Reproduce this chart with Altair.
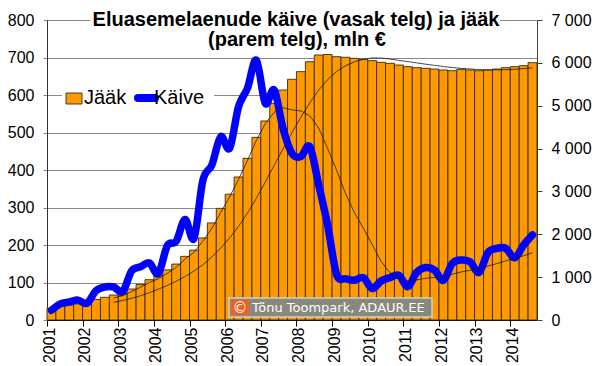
import altair as alt
import pandas as pd

# ---- data (quarterly, 2001Q1 .. 2014Q3) ----
years = list(range(2001, 2015))
quarters = [f"{y}Q{q}" for y in years for q in range(1, 5)][:55]

# Jääk (outstanding), mln €, right axis
jaak = [280, 320, 350, 375, 390, 480, 530, 583, 622, 723,
        830, 940, 1050, 1170, 1305, 1485, 1630, 1915, 2265, 2605,
        2935, 3337, 3773, 4262, 4644, 5055, 5367, 5617, 5795, 6027,
        6183, 6195, 6144, 6130, 6105, 6083, 6051, 6012, 5989, 5950,
        5911, 5888, 5872, 5856, 5833, 5817, 5848, 5833, 5817, 5833,
        5856, 5888, 5911, 5934, 6005]

# Käive (turnover), mln €, left axis
kaive = [26, 43, 48, 53, 45, 78, 88, 88, 76, 131,
         142, 152, 124, 198, 210, 268, 218, 373, 413, 489,
         458, 569, 618, 693, 578, 613, 510, 444, 436, 462,
         360, 253, 122, 110, 106, 113, 84, 104, 113, 119,
         89, 127, 140, 133, 106, 151, 160, 155, 127, 180,
         191, 191, 166, 200, 227]

left_ticks = list(range(0, 801, 100))
right_ticks = list(range(0, 7001, 1000))
year_ticks = years

title_lines = ["Eluasemelaenude käive (vasak telg) ja jääk", "(parem telg), mln €"]
legend_labels = ["Jääk", "Käive"]
watermark = "Tõnu Toompark, ADAUR.EE"

df = pd.DataFrame({"kvartal": quarters, "jaak": jaak, "kaive": kaive})

FONT = "Liberation Sans"
ORANGE = "#FF9900"
BLUE = "#0000FF"
BAR_EDGE = "#3a2c10"

base = alt.Chart(df).transform_calculate(
    t0="toNumber(substring(datum.kvartal,0,4)) + (toNumber(substring(datum.kvartal,5,6))-1)/4"
).transform_calculate(
    t1="datum.t0 + 0.25", tm="datum.t0 + 0.125"
)

xscale = alt.Scale(domain=[2001, 2014.75], nice=False, zero=False)
xaxis = alt.Axis(values=year_ticks, format="d", labelAngle=-90, tickSize=6,
                 labelPadding=1, grid=False, domainColor="black", tickColor="black",
                 title=None, labelOffset=2)

yR = alt.Scale(domain=[0, 7000], nice=False)
yR_axis = alt.Axis(orient="right", values=right_ticks, grid=False, tickSize=5,
                   labelPadding=9, domainColor="#404040", tickColor="#404040",
                   title=None,
                   labelExpr="datum.value >= 1000 ? floor(datum.value/1000) + ' 000' : '0'")
yL = alt.Scale(domain=[0, 800], nice=False)
yL_axis = alt.Axis(orient="left", values=left_ticks, grid=True, gridColor="#8a8a8a",
                   tickSize=4, tickColor="#8a8a8a", labelPadding=9,
                   domainColor="#303030", title=None)

bars = base.mark_rect(fill=ORANGE, stroke=BAR_EDGE, strokeWidth=0.9).encode(
    x=alt.X("t0:Q", scale=xscale, axis=xaxis),
    x2="t1:Q",
    y=alt.Y("jaak:Q", scale=yR, axis=yR_axis),
    y2=alt.datum(0),
)

jaak_ma = base.transform_window(
    ma="mean(jaak)", cnt="count()", frame=[-7, 0], sort=[alt.SortField("t0")]
).transform_filter("datum.cnt >= 8").mark_line(color="#1a1a1a", strokeWidth=0.8).encode(
    x=alt.X("tm:Q", scale=xscale, axis=xaxis),
    y=alt.Y("ma:Q", scale=yR, axis=yR_axis),
)

kaive_line = base.mark_line(color=BLUE, strokeWidth=7.5, interpolate="cardinal",
                            strokeCap="round", strokeJoin="round").encode(
    x=alt.X("tm:Q", scale=xscale, axis=xaxis),
    y=alt.Y("kaive:Q", scale=yL, axis=yL_axis),
)

kaive_ma = base.transform_window(
    ma="mean(kaive)", cnt="count()", frame=[-7, 0], sort=[alt.SortField("t0")]
).transform_filter("datum.cnt >= 8").mark_line(color="#1a1a1a", strokeWidth=0.8).encode(
    x=alt.X("tm:Q", scale=xscale, axis=xaxis),
    y=alt.Y("ma:Q", scale=yL, axis=yL_axis),
)

right_group = alt.layer(bars, jaak_ma)
left_group = alt.layer(kaive_line, kaive_ma)

one = pd.DataFrame({"a": [0]})
deco = alt.Chart(one)

# title box + text
title_box = deco.mark_rect(fill="white").encode(
    x=alt.value(43), x2=alt.value(453), y=alt.value(-6), y2=alt.value(9))
title1 = deco.mark_text(text=title_lines[0], font=FONT, fontSize=20, fontWeight="bold",
                        align="center", baseline="alphabetic", color="black").encode(
    x=alt.value(249), y=alt.value(6))
title2 = deco.mark_text(text=title_lines[1], font=FONT, fontSize=20, fontWeight="bold",
                        align="center", baseline="alphabetic", color="black").encode(
    x=alt.value(250), y=alt.value(26))

# legend
leg_box = deco.mark_rect(fill="white").encode(
    x=alt.value(15), x2=alt.value(167), y=alt.value(64), y2=alt.value(92))
leg_key1 = deco.mark_rect(fill=ORANGE, stroke=BAR_EDGE, strokeWidth=0.9).encode(
    x=alt.value(19), x2=alt.value(35), y=alt.value(73), y2=alt.value(84))
leg_txt1 = deco.mark_text(text=legend_labels[0], font=FONT, fontSize=20, align="left",
                          baseline="alphabetic", color="black").encode(
    x=alt.value(37), y=alt.value(84))
leg_key2 = deco.mark_rule(color=BLUE, strokeWidth=8, strokeCap="round").encode(
    x=alt.value(91), x2=alt.value(108), y=alt.value(78))
leg_txt2 = deco.mark_text(text=legend_labels[1], font=FONT, fontSize=20, align="left",
                          baseline="alphabetic", color="black").encode(
    x=alt.value(107), y=alt.value(84))

# watermark
wm_box = deco.mark_rect(fill="#88887c", stroke="#cfcfc6", strokeWidth=1.5).encode(
    x=alt.value(182), x2=alt.value(385), y=alt.value(278), y2=alt.value(297))
wm_c = deco.mark_rect(fill="#f0601e").encode(
    x=alt.value(184), x2=alt.value(202), y=alt.value(280), y2=alt.value(295))
wm_csym = deco.mark_text(text="©", font="DejaVu Sans", fontSize=15, color="white",
                         align="center", baseline="middle").encode(
    x=alt.value(193), y=alt.value(288))
wm_txt = deco.mark_text(text=watermark, font="DejaVu Sans", fontSize=13, color="white",
                        align="left", baseline="middle").encode(
    x=alt.value(205), y=alt.value(288))

chart = alt.layer(
    right_group, left_group,
    title_box, title1, title2,
    leg_box, leg_key1, leg_txt1, leg_key2, leg_txt2,
    wm_box, wm_c, wm_csym, wm_txt,
).resolve_scale(y="independent").properties(
    width=490, height=300,
    padding={"left": 39, "top": 12, "right": 55, "bottom": 46},
    autosize=alt.AutoSizeParams(type="none"),
    background="white",
).configure_view(strokeWidth=0).configure_axis(
    labelFont=FONT, labelFontSize=16, labelColor="black",
)

chart.save("out.html", embed_options={"renderer": "svg", "actions": False})
